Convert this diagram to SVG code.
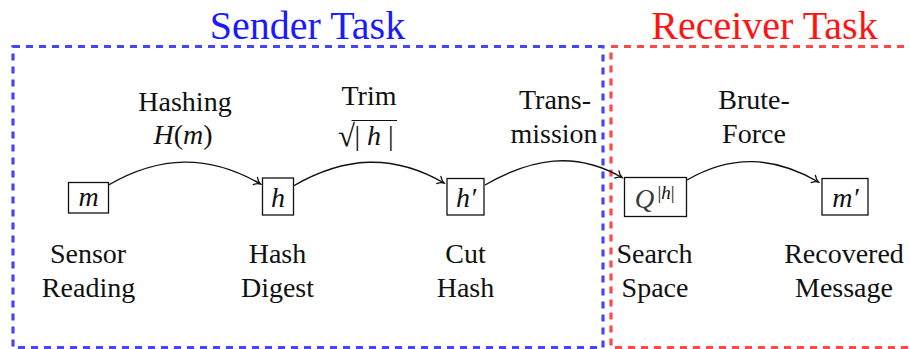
<svg xmlns="http://www.w3.org/2000/svg" width="910" height="349" viewBox="0 0 910 349">
  <style>
    .lbl { font-family: "Liberation Serif", "DejaVu Serif", serif; font-size: 28px; fill: #111; text-anchor: middle; }
    .math { font-family: "Liberation Serif", "DejaVu Serif", serif; font-size: 28px; font-style: italic; fill: #111; text-anchor: middle; }
    .up { font-style: normal; }
    .title { font-family: "Liberation Serif", "DejaVu Serif", serif; font-size: 40px; text-anchor: middle; }
    .box { fill: #fff; stroke: #111; stroke-width: 1.3; }
    .frame { fill: none; stroke-width: 3.2; stroke-dasharray: 7 6; }
    .edge { fill: none; stroke: #111; stroke-width: 1.4; marker-end: url(#tip); }
  </style>
  <defs>
    <marker id="tip" markerUnits="userSpaceOnUse" markerWidth="12" markerHeight="12" refX="0" refY="0" orient="auto" overflow="visible">
      <path d="M-6,-4.2 C-4.2,-2 -1.6,-0.5 0,0 C-1.6,0.5 -4.2,2 -6,4.2" fill="none" stroke="#111" stroke-width="1.3" stroke-linecap="round"/>
    </marker>
  </defs>
  <rect width="910" height="349" fill="#fff"/>

  <!-- task frames -->
  <g id="sender-task">
    <rect class="frame" x="13" y="46.5" width="590" height="301" stroke="#4646f6"/>
    <text class="title" x="307.5" y="39" fill="#1a1aff">Sender Task</text>
  </g>
  <g id="receiver-task">
    <rect class="frame" x="611" y="46.5" width="310" height="301" stroke="#ff4848"/>
    <text class="title" x="764.5" y="39" fill="#ff1414">Receiver Task</text>
  </g>

  <!-- connectors with their labels -->
  <g id="connectors">
    <path class="edge" d="M108.5,185 C160,155.2 209,154.2 260.5,184"/>
    <path class="edge" d="M293.3,186 C344.5,156.4 392.8,153.4 444,183"/>
    <path class="edge" d="M485,185 C531.5,158.1 575.5,150.6 622,177.5"/>
    <path class="edge" d="M687,180 C731.6,154.2 773.9,156.2 818.5,182"/>

    <text class="lbl" x="185" y="111">Hashing</text>
    <text class="math" x="183" y="144">H<tspan class="up">(</tspan>m<tspan class="up">)</tspan></text>

    <text class="lbl" x="369" y="105">Trim</text>
    <text class="lbl" x="346.5" y="145.5" style="font-size:31px">√</text>
    <line x1="351.5" y1="120.5" x2="397" y2="120.5" stroke="#111" stroke-width="1.2"/>
    <text class="math" x="374" y="144.5"><tspan class="up">| </tspan>h<tspan class="up"> |</tspan></text>

    <text class="lbl" x="555" y="109">Trans-</text>
    <text class="lbl" x="554" y="143">mission</text>

    <text class="lbl" x="754" y="108.5">Brute-</text>
    <text class="lbl" x="754" y="143">Force</text>
  </g>

  <!-- nodes -->
  <g id="node-m">
    <rect class="box" x="68.5" y="182.5" width="40" height="30.5"/>
    <text class="math" x="88.5" y="206">m</text>
    <text class="lbl" x="88" y="263">Sensor</text>
    <text class="lbl" x="88.5" y="297">Reading</text>
  </g>
  <g id="node-h">
    <rect class="box" x="262.5" y="178" width="31" height="37"/>
    <text class="math" x="278" y="206.5">h</text>
    <text class="lbl" x="277.5" y="263">Hash</text>
    <text class="lbl" x="277.5" y="297">Digest</text>
  </g>
  <g id="node-hcut">
    <rect class="box" x="447" y="178.5" width="37" height="36.5"/>
    <text class="math" x="466" y="206.5">h′</text>
    <text class="lbl" x="465.5" y="263">Cut</text>
    <text class="lbl" x="465.5" y="297">Hash</text>
  </g>
  <g id="node-space">
    <rect class="box" x="624.5" y="177.5" width="62" height="39"/>
    <text class="math" x="644.5" y="207.5" style="font-size:27px; fill:#3a3a3a">Q</text>
    <text class="math" x="666" y="199" style="font-size:19px"><tspan class="up">|</tspan>h<tspan class="up">|</tspan></text>
    <text class="lbl" x="654.5" y="263">Search</text>
    <text class="lbl" x="655" y="297">Space</text>
  </g>
  <g id="node-mrec">
    <rect class="box" x="822" y="178.5" width="46" height="36.5"/>
    <text class="math" x="845.5" y="206.5">m′</text>
    <text class="lbl" x="844" y="263">Recovered</text>
    <text class="lbl" x="844" y="297">Message</text>
  </g>
</svg>
